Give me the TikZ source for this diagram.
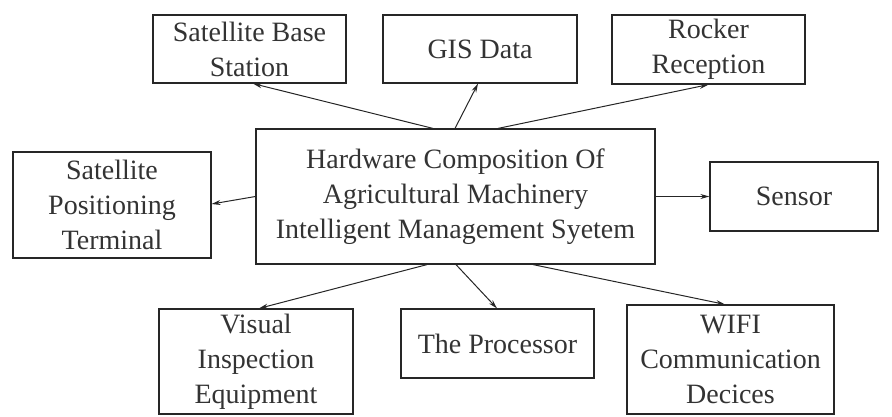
\documentclass[tikz,border=0pt]{standalone}
\usepackage{fontspec}
\setmainfont{Liberation Serif}
\usetikzlibrary{arrows.meta}
\newcommand\diafont{\fontsize{28}{35}\selectfont}
\begin{document}
\begin{tikzpicture}[x=1pt,y=-1pt,
  box/.style={draw=black!85, line width=1.2pt, inner sep=0pt, align=center, font=\diafont, text=black!80},
  arr/.style={draw=black!85, line width=1pt, -{Stealth[length=9pt,width=5pt]}}]
\useasboundingbox (0,0) rectangle (892,416);
\node[box, minimum width=193pt, minimum height=68pt] (sbs) at (249.5,49) {Satellite Base\\Station};
\node[box, minimum width=194pt, minimum height=68pt] (gis) at (480,49) {GIS Data};
\node[box, minimum width=193pt, minimum height=69pt] (rock) at (708.5,49.5) {Rocker\\Reception};
\node[box, minimum width=399pt, minimum height=135pt] (main) at (455.5,196.5) {Hardware Composition Of\\Agricultural Machinery\\Intelligent Management Syetem};
\node[box, minimum width=198pt, minimum height=106pt] (spt) at (112,205) {Satellite\\Positioning\\Terminal};
\node[box, minimum width=168pt, minimum height=69pt] (sen) at (794,196.5) {Sensor};
\node[box, minimum width=194pt, minimum height=105pt] (vie) at (256,361.5) {Visual\\Inspection\\Equipment};
\node[box, minimum width=193pt, minimum height=69pt] (proc) at (497.5,343.5) {The Processor};
\node[box, minimum width=207pt, minimum height=109pt] (wifi) at (730.5,359.5) {WIFI\\Communication\\Decices};
\draw[arr] ([xshift=-22.5pt]main.north) -- ([xshift=3.5pt]sbs.south);
\draw[arr] ([xshift=-0.5pt]main.north) -- ([xshift=-2pt]gis.south);
\draw[arr] ([xshift=42.5pt]main.north) -- (rock.south);
\draw[arr] (main.west) -- ([yshift=1pt]spt.east);
\draw[arr] (main.east) -- (sen.west);
\draw[arr] ([xshift=-28.5pt]main.south) -- ([xshift=3pt]vie.north);
\draw[arr] ([xshift=0.5pt]main.south) -- ([xshift=-0.5pt]proc.north);
\draw[arr] ([xshift=77.5pt]main.south) -- ([xshift=-5.5pt]wifi.north);
\end{tikzpicture}
\end{document}
